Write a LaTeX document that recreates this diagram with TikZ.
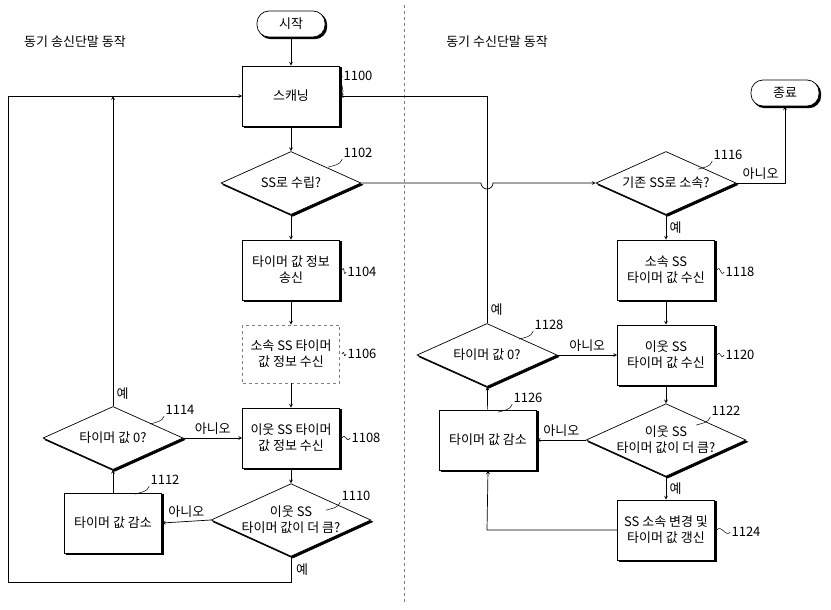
\documentclass[tikz,border=0pt]{standalone}
\usepackage{fontspec}
\setmainfont{Noto Sans CJK KR}
\usetikzlibrary{shapes.geometric}
\begin{document}
\begin{tikzpicture}[
        x=1pt, y=-1pt,
        line width=0.7pt,
        font=\fontsize{13}{16}\selectfont,
        sh/.style={preaction={fill=black, draw=black, transform canvas={xshift=1.8pt, yshift=-1.8pt}}},
        box/.style={
            rectangle,
            draw,
            fill=white,
            sh,
            align=center,
            minimum width=97pt,
            minimum height=60pt
        },
        dbox/.style={
            rectangle,
            draw=gray,
            dashed,
            fill=white,
            align=center,
            minimum width=97pt,
            minimum height=58pt
        },
        dec/.style={
            diamond,
            draw,
            fill=white,
            sh,
            aspect=2.2,
            inner sep=0pt,
            align=center,
            minimum width=140pt,
            minimum height=63pt
        },
        term/.style={
            rectangle,
            rounded corners=12pt,
            draw,
            fill=white,
            sh,
            minimum width=68pt,
            minimum height=26pt
        },
        num/.style={inner sep=1pt},
        >=stealth
    ]
    \useasboundingbox (0,0) rectangle (831,610);

    % headings and divider
    \node (hl) at (75,42) {동기 송신단말 동작};
    \node (hr) at (497,42) {동기 수신단말 동작};
    \draw[dashed, gray, line width=0.5pt] (404,5) -- (404,605);

    % transmitter side
    \node[term] (start) at (291,24) {시작};
    \node[box] (n1100) at (291,96) {스캐닝};
    \node[dec] (n1102) at (291,183) {SS로 수립?};
    \node[box] (n1104) at (291,270) {타이머 값 정보\\송신};
    \node[dbox] (n1106) at (291,354) {소속 SS 타이머\\값 정보 수신};
    \node[box] (n1108) at (291,438) {이웃 SS 타이머\\값 정보 수신};
    \node[dec] (n1110) at (291,520) {이웃 SS\\타이머 값이 더 큼?};
    \node[dec] (n1114) at (113,438) {타이머 값 0?};
    \node[box] (n1112) at (113,523) {타이머 값 감소};

    % receiver side
    \node[term] (end) at (785,93) {종료};
    \node[dec] (n1116) at (666,183) {기존 SS로 소속?};
    \node[box] (n1118) at (666,270) {소속 SS\\타이머 값 수신};
    \node[box] (n1120) at (666,355) {이웃 SS\\타이머 값 수신};
    \node[dec] (n1122) at (666,440) {이웃 SS\\타이머 값이 더 큼?};
    \node[box] (n1124) at (666,530) {SS 소속 변경 및\\타이머 값 갱신};
    \node[box] (n1126) at (488,440) {타이머 값 감소};
    \node[dec] (n1128) at (487,355) {타이머 값 0?};

    % reference numbers
    \node[num] (l1100) at (358,76) {1100};
    \node[num] (l1102) at (358,153) {1102};
    \node[num] (l1104) at (362,272) {1104};
    \node[num] (l1106) at (362,354) {1106};
    \node[num] (l1108) at (366,438) {1108};
    \node[num] (l1110) at (356,496) {1110};
    \node[num] (l1114) at (180,410) {1114};
    \node[num] (l1112) at (165,480) {1112};
    \node[num] (l1116) at (728,155) {1116};
    \node[num] (l1118) at (740,272) {1118};
    \node[num] (l1120) at (740,355) {1120};
    \node[num] (l1122) at (726,411) {1122};
    \node[num] (l1124) at (746,532) {1124};
    \node[num] (l1126) at (528,398) {1126};
    \node[num] (l1128) at (549,325) {1128};
    \foreach \n in {1100,1104,1106,1108,1118,1120,1124}
        \draw[line width=0.5pt] ([xshift=2pt]n\n.east) .. controls +(4,-6) and +(-4,6) .. (l\n.west);
    \foreach \n in {1102,1110,1114,1116,1122,1128,1112,1126}
        \draw[line width=0.5pt] ([shift={(-14,8)}]l\n.south west) .. controls +(6,-2) and +(-2,6) .. (l\n.south west);

    % connectors, transmitter
    \draw[->] (start) -- (n1100);
    \draw[->] (n1100) -- (n1102);
    \draw[->] (n1102) -- (n1104);
    \draw[->] (n1104) -- (n1106);
    \draw[->] (n1106) -- (n1108);
    \draw[->] (n1108) -- (n1110);
    \draw[->] (n1110.west) -- node[above] {아니오} (n1112.east);
    \draw[->] (n1112) -- (n1114);
    \draw[->] (n1114.east) -- node[above] {아니오} (n1108.west);
    \draw[->] (n1114.north) -- node[pos=0.04, right] {예} (113,96);
    \draw[->] (n1110.south) -- (291,582) -- (8,582) -- (8,96) -- (n1100.west);
    \node (y1110) at (302,570) {예};

    % connectors, receiver
    \draw[->] (n1102.east) -- (481,183) arc[start angle=180, end angle=0, radius=6] -- (n1116.west);
    \draw[->] (n1116.east) -- node[above] {아니오} (785,183) -- (end.south);
    \draw[->] (n1116) -- node[right] {예} (n1118);
    \draw[->] (n1118) -- (n1120);
    \draw[->] (n1120) -- (n1122);
    \draw[->] (n1122.west) -- node[above] {아니오} (n1126.east);
    \draw[->] (n1122) -- node[right] {예} (n1124);
    \draw[->] (n1124.west) -- (487,530) -- (n1126.south);
    \draw[->] (n1126) -- (n1128);
    \draw[->] (n1128.east) -- node[above] {아니오} (n1120.west);
    \draw[->] (n1128.north) -- node[pos=0.06, right] {예} (487,96) -- (n1100.east);
\end{tikzpicture}
\end{document}
